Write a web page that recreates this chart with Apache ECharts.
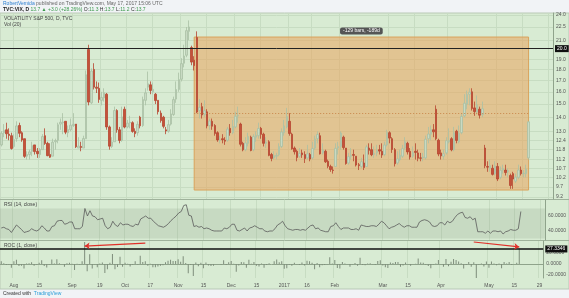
<!DOCTYPE html>
<html><head><meta charset="utf-8">
<script src="https://cdn.jsdelivr.net/npm/echarts/dist/echarts.min.js"></script>
<style>html,body{margin:0;padding:0;background:#f1f3f6;}#c{width:569px;height:298px;}</style>
</head><body><div id="c"></div>
<script>
// ---- categories (trading days, incl. future slots shown by the chart) ----
const holidays = ['2016-09-05','2016-11-24','2016-12-26','2017-01-02','2017-01-16','2017-02-20','2017-04-14'];
const dates = [];
for (let d = new Date(Date.UTC(2016,6,25)); d.getTime() <= Date.UTC(2017,4,30); d.setUTCDate(d.getUTCDate()+1)) {
  const w = d.getUTCDay(), s = d.toISOString().slice(0,10);
  if (w === 0 || w === 6 || holidays.includes(s)) continue;
  dates.push(s);
}
// ---- VIX daily OHLC ----
const opens = [12.1,12.9,13.1,12.8,12.7,12.0,12.5,13.4,12.9,12.5,
11.4,11.5,11.7,12.1,11.7,11.5,11.8,12.7,12.2,11.5,
11.4,12.3,12.4,13.5,13.6,13.7,12.9,13.1,13.4,13.5,
11.9,12.0,11.9,12.5,20.0,15.1,18.0,16.4,16.3,15.3,
15.5,15.8,13.3,12.0,12.3,14.5,13.1,12.4,14.6,13.3,
13.6,13.6,13.0,12.9,14.0,13.4,15.3,16.4,16.6,16.0,
15.8,15.3,14.3,14.0,13.1,13.0,13.5,14.2,15.4,16.2,
17.1,18.6,19.4,22.0,20.2,18.9,21.3,14.5,14.8,14.2,
14.4,13.4,13.7,13.4,12.9,12.4,12.5,12.4,12.4,13.2,
12.9,13.3,14.1,13.5,12.2,11.8,12.2,12.6,11.8,12.6,
12.7,13.2,12.8,12.2,12.3,11.5,11.3,11.4,11.5,12.0,
12.9,13.3,13.7,12.8,11.9,11.7,11.4,11.6,11.5,11.3,
11.5,11.3,11.9,12.5,12.7,11.6,11.7,11.1,10.8,10.6,
10.8,11.9,12.0,12.6,11.9,11.0,11.4,11.5,11.4,10.9,
10.8,11.0,10.8,11.9,11.8,11.5,11.6,11.8,11.7,11.5,
12.1,12.9,12.5,11.8,11.0,11.2,11.4,11.9,12.2,11.7,
11.4,11.7,11.6,11.3,11.3,11.3,12.5,12.8,13.1,14.6,
12.4,11.6,11.4,11.6,12.3,12.5,11.8,13.0,12.3,12.9,
14.1,15.0,15.8,16.0,14.7,14.4,14.6,14.2,11.9,10.8,
10.7,10.7,10.4,10.8,10.2,10.6,10.6,10.5,10.3,10.4,
10.0,10.2,10.6,10.4,10.4,11.3];
const highs = [13.0,13.5,13.6,13.2,12.9,12.8,13.7,13.6,13.0,12.5,
11.7,11.8,12.3,12.1,11.9,11.9,12.8,13.2,12.3,12.2,
12.5,12.5,13.6,13.9,14.3,13.7,13.4,13.9,14.3,13.5,
12.6,12.3,12.7,17.9,20.5,18.1,18.6,16.9,16.8,16.0,
16.3,15.9,13.4,12.6,14.8,14.6,13.3,14.8,14.8,13.8,
14.1,13.7,13.2,13.7,14.1,15.6,16.3,17.8,16.9,16.8,
15.9,15.3,14.5,14.1,13.3,13.8,14.6,15.6,16.9,17.7,
19.1,20.5,22.5,23.3,20.4,19.3,22.0,15.4,15.1,15.3,
14.6,13.9,13.9,13.5,13.0,12.7,12.8,12.6,13.3,13.5,
13.8,14.4,14.8,13.6,12.3,12.6,12.9,12.7,12.8,13.0,
13.6,13.3,12.9,12.6,12.4,11.6,11.7,11.6,12.2,13.2,
13.8,14.7,14.3,12.9,12.0,11.8,11.9,11.8,11.7,12.1,
11.6,12.3,12.7,13.0,12.9,12.2,11.8,11.2,10.9,10.8,
12.2,12.3,13.0,12.7,11.9,11.6,11.9,11.8,11.4,11.0,
11.3,11.5,12.1,12.2,12.2,12.0,12.1,12.1,12.2,12.3,
13.1,13.0,12.6,11.9,11.7,11.8,12.1,12.6,12.3,11.9,
12.0,12.2,11.8,11.6,11.6,12.7,13.3,13.4,13.5,14.9,
12.5,11.8,11.8,12.6,13.2,12.6,13.3,13.1,13.4,14.3,
15.8,16.1,16.3,16.3,15.2,15.7,14.8,15.2,12.1,11.1,
11.2,10.9,11.1,11.0,10.8,10.9,10.9,10.7,10.4,10.5,
10.4,10.9,10.8,10.6,10.9,13.7];
const lows = [12.0,12.6,12.5,12.4,11.8,11.9,12.3,12.6,12.3,11.3,
11.2,11.2,11.4,11.5,11.3,11.3,11.8,12.1,11.4,11.3,
11.4,11.8,12.2,13.1,12.8,12.8,12.6,13.0,13.3,11.9,
11.9,11.7,11.9,12.5,14.9,15.0,16.2,15.9,15.1,14.9,
15.2,13.1,11.8,11.9,12.3,12.9,12.2,12.3,13.2,13.2,
13.2,12.9,12.6,12.7,13.2,13.3,14.9,16.1,15.8,15.8,
15.0,14.2,13.6,13.2,12.8,12.9,13.4,14.1,15.1,16.0,
16.9,18.2,19.2,21.0,18.4,17.9,14.3,13.9,13.9,14.0,
13.2,13.1,13.1,12.7,12.3,12.2,12.2,12.1,12.3,12.7,
12.8,13.2,13.6,12.0,11.7,11.7,12.0,11.7,11.7,12.3,
12.5,12.5,12.0,11.9,11.4,11.1,11.2,11.2,11.4,11.9,
12.7,13.2,12.7,11.8,11.5,11.1,11.3,11.3,11.0,11.2,
11.1,11.2,11.8,12.2,11.5,11.5,11.0,10.7,10.5,10.4,
10.8,11.5,11.8,11.8,10.9,10.9,11.2,11.1,10.8,10.6,
10.7,10.6,10.8,11.5,11.4,11.3,11.4,11.5,11.3,11.4,
12.0,12.2,11.6,10.8,10.9,11.1,11.3,11.8,11.5,11.2,
11.3,11.2,11.1,11.1,11.1,11.2,12.2,12.4,12.6,12.4,
11.4,11.2,11.2,11.5,12.2,11.7,11.7,12.2,12.2,12.8,
14.0,14.6,14.9,14.5,14.1,14.2,13.9,14.0,10.7,10.5,
10.5,10.3,10.3,10.0,10.1,10.4,10.3,10.2,9.6,9.6,
9.9,10.1,10.3,10.2,10.2,11.2];
const closes = [12.87,13.05,12.83,12.72,11.87,12.44,13.37,12.86,12.42,11.39,
11.50,11.66,12.05,11.68,11.55,11.81,12.64,12.19,11.43,11.34,
12.27,12.38,13.45,13.63,13.65,12.94,13.12,13.42,13.48,11.98,
12.02,11.94,12.51,17.50,15.16,17.85,16.40,16.30,15.37,15.53,
15.92,13.30,12.02,12.29,14.50,13.10,12.39,14.02,13.29,13.57,
13.63,12.99,12.84,13.48,13.38,15.36,15.91,16.69,16.12,16.21,
15.28,14.41,13.75,13.34,13.02,13.46,14.24,15.36,16.19,17.06,
18.56,19.32,22.08,22.51,18.71,18.37,14.38,14.74,14.17,14.48,
13.37,13.72,13.35,12.85,12.42,12.41,12.43,12.34,13.15,12.90,
13.33,14.07,14.12,12.14,11.79,12.22,12.64,11.75,12.64,12.72,
13.19,12.79,12.20,12.29,11.45,11.27,11.43,11.44,11.99,12.95,
13.37,14.04,12.85,11.85,11.67,11.32,11.56,11.49,11.26,11.54,
11.23,11.87,12.48,12.78,11.54,11.77,11.07,10.81,10.63,10.58,
11.88,11.99,12.88,11.93,10.97,11.37,11.45,11.45,10.88,10.85,
11.07,10.74,11.97,11.76,11.49,11.57,11.74,11.71,11.47,12.09,
12.92,12.54,11.81,10.96,11.24,11.45,11.86,12.30,11.66,11.35,
11.63,11.63,11.28,11.28,11.34,12.47,12.81,13.12,12.96,12.50,
11.53,11.42,11.54,12.37,12.38,11.79,12.89,12.39,12.87,14.05,
15.07,15.77,15.96,14.66,14.42,14.93,14.15,14.63,10.84,10.76,
10.85,10.36,10.82,10.11,10.59,10.68,10.46,10.57,9.77,10.11,
10.21,10.60,10.40,10.42,10.65,13.66];
// ---- RSI (14, close) ----
const rsi = [44,45,43,42,38,43,48,45,42,38,
39,40,43,41,40,42,47,44,40,40,
46,47,53,54,54,49,50,52,52,43,
43,43,46,70,60,67,60,59,55,56,
57,47,43,45,53,48,46,51,48,49,
49,47,46,49,48,56,58,60,57,57,
53,50,47,46,45,47,50,54,57,60,
64,66,74,75,61,60,46,47,45,46,
43,44,43,41,40,40,40,40,44,43,
45,49,49,41,40,42,44,40,44,45,
47,45,43,43,40,39,40,40,43,48,
50,53,47,43,42,41,42,42,41,42,
41,44,47,48,43,44,41,40,39,39,
46,47,51,46,42,44,44,44,42,42,
43,41,48,47,46,46,47,47,46,49,
53,51,47,43,45,46,48,50,47,45,
47,47,45,45,45,52,54,55,54,52,
47,46,47,51,51,48,53,51,53,58,
62,64,65,58,57,59,55,57,39,39,
39,37,40,37,40,40,39,40,36,39,
40,42,41,41,43,66];
// ---- ROC (1, close), % ----
const roc = [5.0,1.4,-1.7,-0.9,-6.7,4.8,7.5,-3.8,-3.4,-8.3,
1.0,1.4,3.3,-3.1,-1.1,2.3,7.0,-3.6,-6.2,-0.8,
8.2,0.9,8.6,1.3,0.1,-5.2,1.4,2.3,0.4,-11.1,
0.3,-0.7,4.8,39.9,-13.4,17.7,-8.1,-0.6,-5.7,1.0,
2.5,-16.5,-9.6,2.2,18.0,-9.7,-5.4,13.2,-5.2,2.1,
0.4,-4.7,-1.2,5.0,-0.7,14.8,3.6,4.9,-3.4,0.6,
-5.7,-5.7,-4.6,-3.0,-2.4,3.4,5.8,7.9,5.4,5.4,
8.8,4.1,14.3,1.9,-16.9,-1.8,-21.7,2.5,-3.9,2.2,
-7.7,2.6,-2.7,-3.7,-3.3,-0.1,0.2,-0.7,6.6,-1.9,
3.3,5.6,0.4,-14.0,-2.9,3.6,3.4,-7.0,7.6,0.6,
3.7,-3.0,-4.6,0.7,-6.8,-1.6,1.4,0.1,4.8,8.0,
3.2,5.0,-8.5,-7.8,-1.5,-3.0,2.1,-0.6,-2.0,2.5,
-2.7,5.7,5.1,2.4,-9.7,2.0,-5.9,-2.3,-1.7,-0.5,
12.3,0.9,7.4,-7.4,-8.0,3.6,0.7,0.0,-5.0,-0.3,
2.0,-3.0,11.5,-1.8,-2.3,0.7,1.5,-0.3,-2.0,5.4,
6.9,-2.9,-5.8,-7.2,2.6,1.9,3.6,3.7,-5.2,-2.7,
2.5,0.0,-3.0,0.0,0.5,10.0,2.7,2.4,-1.2,-3.5,
-7.8,-1.0,1.1,7.2,0.1,-4.8,9.3,-3.9,3.9,9.2,
7.3,4.6,1.2,-8.1,-1.6,3.5,-5.2,3.4,-25.9,-0.7,
0.8,-4.5,4.4,-6.6,4.7,0.8,-2.1,1.1,-7.6,3.5,
1.0,3.8,-1.9,0.2,2.2,28.3];
// ---- tick labels ----
const priceTicks = [9.2,9.7,10.2,10.7,11.2,11.8,12.4,13.0,14.0,15.0,16.0,17.0,18.0,19.0,21.0,22.5,24.0];
const rsiTicks = [40,60];
const rocTicks = [-20,0,20];
const xTickDates = ['2016-08-01','2016-08-15','2016-09-01','2016-09-19','2016-10-03','2016-10-17','2016-11-01','2016-11-15','2016-12-01','2016-12-15','2017-01-03','2017-01-17','2017-02-01','2017-03-01','2017-03-15','2017-04-03','2017-05-01','2017-05-15','2017-05-29'];
const xTickLabels = ['Aug','15','Sep','19','Oct','17','Nov','15','Dec','15','2017','16','Feb','Mar','15','Apr','May','15','29'];
// ---- drawings ----
const hLinePrice = 20.0, lastPrice = 13.7, rocLine = 27.3346;
const boxStart = '2016-11-08', boxEnd = '2017-05-17', boxTop = 21.35, boxBottom = 9.54, boxLabel = '-129 bars, -189d';
const arrow1 = [['2016-10-13', 38], ['2016-09-09', 32.5]];
const arrow2 = [['2017-04-21', 40], ['2017-05-17', 31]];
const priceMin = 9.10, priceMax = 24.23;

const L = Math.log;
const FONT = 'Liberation Sans, Arial, sans-serif';
const GRIDC = '#c7dcc2';
const isTick = (i) => xTickDates.includes(dates[i]);
const candle = opens.map((o,i) => [L(o), L(closes[i]), L(lows[i]), L(highs[i])]);

const grids = [
  {left:-2, width:555, top:13, height:186},
  {left:-2, width:555, top:200, height:40},
  {left:-2, width:555, top:241, height:37}
];
const xAxes = grids.map((g,k) => ({
  type:'category', gridIndex:k, data:dates, boundaryGap:true,
  axisLine:{show:k===2, lineStyle:{color:'#8fa38b', width:1}},
  axisTick:{show:false},
  axisLabel:{show:k===2, interval:(i)=>isTick(i), formatter:(v)=>xTickLabels[xTickDates.indexOf(v)],
             fontSize:5, color:'#555', fontFamily:FONT, margin:5},
  splitLine:{show:true, interval:(i)=>isTick(i), lineStyle:{color:GRIDC, width:1}}
}));
const yAxisBase = {
  type:'value', position:'right', scale:true,
  axisLine:{show:true, lineStyle:{color:'#8fa38b'}},
  axisTick:{show:false},
  axisLabel:{fontSize:5, color:'#555', fontFamily:FONT, margin:3},
  splitLine:{show:true, lineStyle:{color:GRIDC}}
};
const yAxes = [
  Object.assign({}, yAxisBase, {gridIndex:0, min:L(priceMin), max:L(priceMax),
    axisTick:{show:false, customValues:priceTicks.map(L)},
    axisLabel:Object.assign({}, yAxisBase.axisLabel, {customValues:priceTicks.map(L), formatter:(v)=>Math.exp(v).toFixed(1)})}),
  Object.assign({}, yAxisBase, {gridIndex:1, min:28, max:81.33,
    axisTick:{show:false, customValues:rsiTicks},
    axisLabel:Object.assign({}, yAxisBase.axisLabel, {customValues:rsiTicks, formatter:(v)=>v.toFixed(4)}),
    splitLine:{show:false}}),
  Object.assign({}, yAxisBase, {gridIndex:2, min:-25.45, max:41.8,
    axisTick:{show:false, customValues:rocTicks},
    axisLabel:Object.assign({}, yAxisBase.axisLabel, {customValues:rocTicks, formatter:(v)=>v.toFixed(4)}),
    splitLine:{show:false}})
];

const tagLabel = (bg, txt) => ({show:true, position:'end', formatter:txt, color:'#fff', backgroundColor:bg,
  fontSize:5, fontFamily:FONT, padding:[1,2,1,2], distance:2});
const T = (left, top, text, rich) => ({left, top, padding:0, itemGap:0, text,
  textStyle:{color:'#444', fontSize:5, lineHeight:6, fontWeight:'normal', fontFamily:FONT, rich:rich || {}}});
const R = (color, weight) => ({color, fontSize:5, lineHeight:6, fontWeight:weight || 'normal', fontFamily:FONT});

const option = {
  animation:false,
  backgroundColor:'#f1f3f6',
  textStyle:{fontFamily:FONT},
  graphic:[
    {type:'rect', shape:{x:0, y:13, width:569, height:276}, style:{fill:'#d8ebd3', stroke:'#b9c9b6', lineWidth:1}, z:-10},
    {type:'line', shape:{x1:0, y1:199.5, x2:569, y2:199.5}, style:{stroke:'#9fb29b', lineWidth:1}, z:-5},
    {type:'line', shape:{x1:0, y1:240.5, x2:569, y2:240.5}, style:{stroke:'#9fb29b', lineWidth:1}, z:-5}
  ],
  title:[
    T(3, 1, '{u|RobertVemida} {g|published on TradingView.com, May 17, 2017 15:06 UTC}', {u:R('#2c7fd0'), g:R('#666')}),
    T(3, 7, '{b|TVC:VIX, D} {v|13.7 ▲ +3.0 (+28.26%)} {k|O:}{v|11.3} {k|H:}{v|13.7} {k|L:}{v|11.2} {k|C:}{v|13.7}',
      {b:R('#222','bold'), v:R('#3a9a4a'), k:R('#333')}),
    T(4, 16, 'VOLATILITY S&P 500, D, TVC'),
    T(4, 22, 'Vol (20)'),
    T(4, 202, 'RSI (14, close)'),
    T(4, 243, 'ROC (1, close)'),
    T(3, 291, '{k|Created with}  {t|TradingView}', {k:R('#333'), t:R('#2c9fd8')})
  ],
  grid:grids,
  xAxis:xAxes,
  yAxis:yAxes,
  series:[
    {type:'candlestick', xAxisIndex:0, yAxisIndex:0, data:candle, barWidth:2,
     itemStyle:{color:'#c8dac3', color0:'#c4523a', borderColor:'#aac0a5', borderColor0:'#b64530', borderWidth:0.8},
     markArea:{silent:true, itemStyle:{color:'rgba(234,164,93,0.55)', borderColor:'#d9a35c', borderWidth:1},
       label:{show:true, position:'top', formatter:boxLabel, color:'#fff', backgroundColor:'#555', borderRadius:2,
              padding:[1,3,1,3], fontSize:5, fontFamily:FONT, distance:2},
       data:[[{xAxis:boxStart, yAxis:L(boxTop)}, {xAxis:boxEnd, yAxis:L(boxBottom)}]]},
     markLine:{silent:true, symbol:'none',
       data:[
         {yAxis:L(hLinePrice), lineStyle:{color:'#222', width:1, type:'solid'}, label:tagLabel('#111', hLinePrice.toFixed(1))},
         {yAxis:L(lastPrice), lineStyle:{opacity:0}, label:tagLabel('#4e9f6c', lastPrice.toFixed(1))},
         [{coord:[boxStart, (L(boxTop)+L(boxBottom))/2], lineStyle:{color:'#c8864a', width:1, type:[1,2]}, label:{show:false}},
          {coord:[boxEnd, (L(boxTop)+L(boxBottom))/2]}]
       ]}},
    {type:'line', xAxisIndex:1, yAxisIndex:1, data:rsi, symbol:'none', lineStyle:{color:'#5a5a5a', width:0.8},
     markArea:{silent:true, itemStyle:{color:'rgba(120,145,115,0.18)'}, data:[[{yAxis:30},{yAxis:70}]]}},
    {type:'bar', xAxisIndex:2, yAxisIndex:2, data:roc, barWidth:1, itemStyle:{color:'#7e8d7b'},
     markLine:{silent:true, symbol:'none',
       data:[
         {yAxis:rocLine, lineStyle:{color:'#111', width:1.5, type:'solid'}, label:tagLabel('#111', rocLine.toFixed(4))},
         [{coord:arrow1[0], symbol:'none', lineStyle:{color:'#e0302a', width:1.2, type:'solid'}, label:{show:false}},
          {coord:arrow1[1], symbol:'arrow', symbolSize:5}],
         [{coord:arrow2[0], symbol:'none', lineStyle:{color:'#e0302a', width:1.2, type:'solid'}, label:{show:false}},
          {coord:arrow2[1], symbol:'arrow', symbolSize:5}]
       ]}}
  ]
};
const chart = echarts.init(document.getElementById('c'), null, {renderer:'canvas'});
chart.setOption(option);
</script>
</body></html>
